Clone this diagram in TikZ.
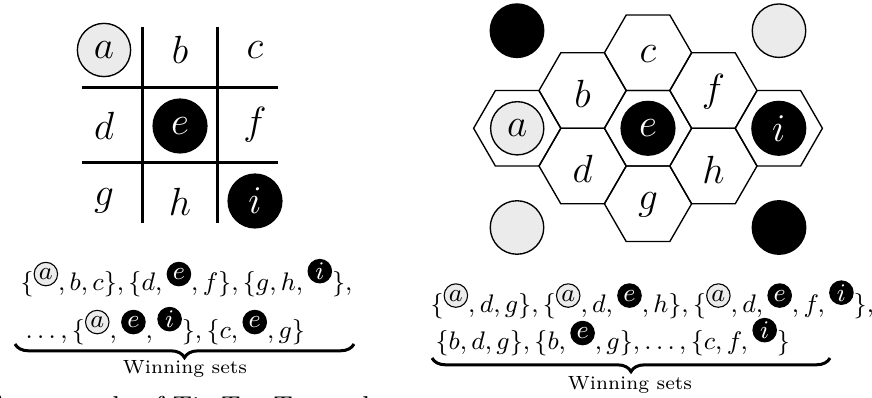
\RequirePackage{fix-cm}
\documentclass[tikz,border=0pt]{standalone}
\usetikzlibrary{decorations.pathreplacing}
\definecolor{lg}{gray}{0.92}
\newlength\csz
\newlength\craise
\setlength\csz{8.6pt}
\setlength\craise{4.2pt}
\newcommand\cgr[1]{\tikz[baseline={([yshift=-\craise]X.base)}]\node[anchor=center,circle,draw=black,line width=0.4pt,fill=lg,text=black,inner sep=0pt,minimum size=\csz](X){$#1$};}
\newcommand\cbl[1]{\tikz[baseline={([yshift=-\craise]X.base)}]\node[anchor=center,circle,draw=black,line width=0.4pt,fill=black,text=white,inner sep=0pt,minimum size=\csz](X){$#1$};}
\begin{document}
\begin{tikzpicture}[x=0.3663pt,y=-0.3663pt,
  gridline/.style={line width=1.1pt},
  hexline/.style={line width=0.5pt},
  lbl/.style={font=\Large,inner sep=0pt},
  sg/.style={circle,draw=black,fill=lg,line width=0.5pt,minimum size=19.5pt,inner sep=0pt,font=\Large},
  sb/.style={circle,draw=black,fill=black,text=white,line width=0.5pt,minimum size=19.7pt,inner sep=0pt,font=\Large},
  sets/.style={anchor=base west,inner sep=0pt,font=\fontsize{9.3}{11.5}\selectfont},
  wbrace/.style={decorate,decoration={brace,mirror,amplitude=5pt},line width=1.1pt},
  wlabel/.style={anchor=base,font=\scriptsize,inner sep=0pt}]
\useasboundingbox (0,0) rectangle (872,398);
% ---- Tic-Tac-Toe grid
\draw[gridline] (142,27) -- (142,223);
\draw[gridline] (217,27) -- (217,223);
\draw[gridline] (82,88) -- (278,88);
\draw[gridline] (82,163) -- (278,163);
\node[sg] (ga) at (104,50) {$a$};
\node[lbl] (gb) at (180,50) {$b$};
\node[lbl] (gc) at (255,50) {$c$};
\node[lbl] (gd) at (104,126) {$d$};
\node[sb] (ge) at (180,126) {$e$};
\node[lbl] (gf) at (255,125) {$f$};
\node[lbl] (gg) at (104,201) {$g$};
\node[lbl] (gh) at (180,202) {$h$};
\node[sb] (gi) at (255,201) {$i$};
% ---- Hex board
\coordinate (hxa) at (517.2,128.3);
\coordinate (hxb) at (582.6,90.55);
\coordinate (hxc) at (648,52.8);
\coordinate (hxd) at (582.6,166.05);
\coordinate (hxe) at (648,128.3);
\coordinate (hxf) at (713.4,90.55);
\coordinate (hxg) at (648,203.8);
\coordinate (hxh) at (713.4,166.05);
\coordinate (hxi) at (778.8,128.3);
\foreach \c in {hxa,hxb,hxc,hxd,hxe,hxf,hxg,hxh,hxi}{
  \draw[hexline] (\c) ++(0:43.6) -- ++(120:43.6) -- ++(180:43.6) -- ++(240:43.6) -- ++(300:43.6) -- ++(0:43.6) -- cycle;
}
\node[sg] (ha) at (hxa) {$a$};
\node[lbl] (hb) at (582.6,94) {$b$};
\node[lbl] (hc) at (648,54) {$c$};
\node[lbl] (hd) at (582.6,169) {$d$};
\node[sb] (he) at (hxe) {$e$};
\node[lbl] (hf) at (713.4,92) {$f$};
\node[lbl] (hg) at (648,204.5) {$g$};
\node[lbl] (hh) at (713.4,170) {$h$};
\node[sb] (hi) at (hxi) {$i$};
% corner stones
\node[sb,minimum size=19.6pt] (k1) at (517,30.7) {};
\node[sg,minimum size=19.6pt] (w1) at (779,30.7) {};
\node[sg,minimum size=19.6pt] (w2) at (517,227.5) {};
\node[sb,minimum size=19.6pt] (k2) at (779,227.5) {};
% ---- winning sets (left)
\node[sets] (l1) at (20,291) {$\{\cgr{a}, b, c\}, \{d, \cbl{e}, f\}, \{g, h, \cbl{i}\},$};
\node[sets] (l2) at (25,339) {$\ldots, \{\cgr{a}, \cbl{e}, \cbl{i}\}, \{c, \cbl{e}, g\}$};
\coordinate (lb1) at (15,344);
\coordinate (lb2) at (354,344);
\draw[wbrace] (lb1) -- (lb2);
\node[wlabel] (lw) at (185,374) {Winning sets};
% ---- winning sets (right)
\node[sets] (r1) at (430,312.5) {$\{\cgr{a}, d, g\}, \{\cgr{a}, d, \cbl{e}, h\}, \{\cgr{a}, d, \cbl{e}, f, \cbl{i}\},$};
\node[sets] (r2) at (435,350) {$\{b, d, g\}, \{b, \cbl{e}, g\}, \ldots, \{c, f, \cbl{i}\}$};
\coordinate (rb1) at (432,358);
\coordinate (rb2) at (830,358);
\draw[wbrace] (rb1) -- (rb2);
\node[wlabel] (rw) at (630,390) {Winning sets};
% ---- caption (cut off)
\node[anchor=base west,inner sep=0pt] (cap) at (172,416) {\llap{2: An example of }Tic-Tac-Toe and};
\end{tikzpicture}
\end{document}
